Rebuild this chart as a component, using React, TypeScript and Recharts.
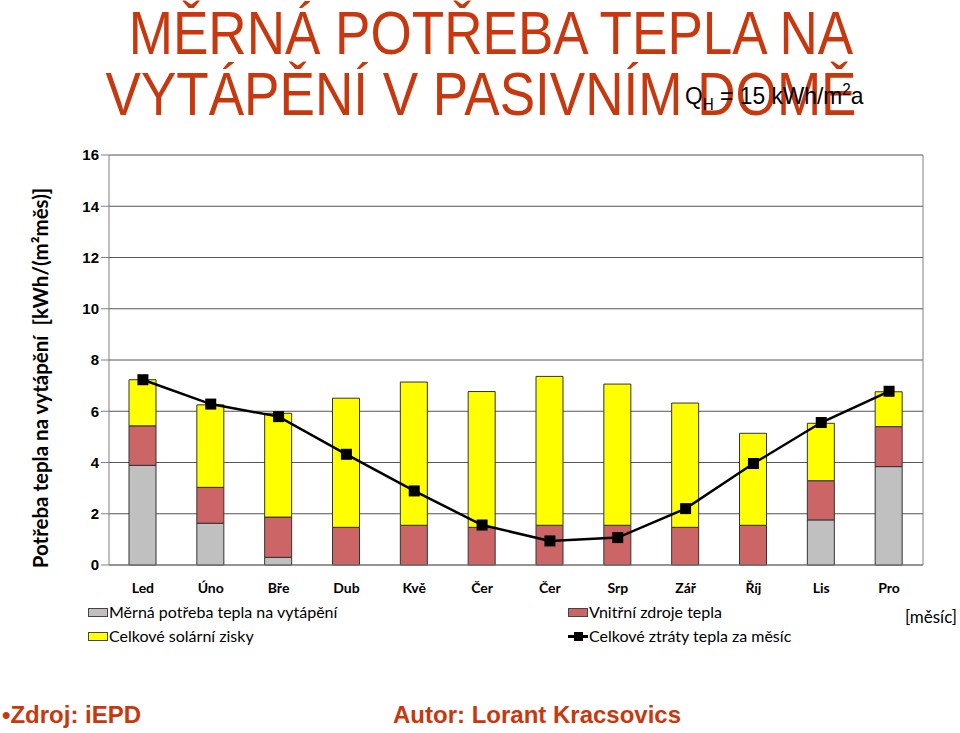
import React from "react";
import { Bar, CartesianGrid, ComposedChart, Line, XAxis, YAxis } from "recharts";

const months = ['Led', 'Úno', 'Bře', 'Dub', 'Kvě', 'Čer', 'Čer', 'Srp', 'Zář', 'Říj', 'Lis', 'Pro'];
const heating = [3.89, 1.63, 0.30, 0, 0, 0, 0, 0, 0, 0, 1.76, 3.84];
const internal = [1.54, 1.40, 1.57, 1.47, 1.55, 1.47, 1.55, 1.55, 1.47, 1.55, 1.53, 1.56];
const solar = [1.80, 3.22, 4.05, 5.04, 5.59, 5.30, 5.81, 5.51, 4.85, 3.59, 2.24, 1.36];
const losses = [7.23, 6.28, 5.79, 4.32, 2.89, 1.56, 0.94, 1.07, 2.20, 3.96, 5.56, 6.78];
const yTicks = [0, 2, 4, 6, 8, 10, 12, 14, 16];
const boundaryTicks = [0, 1, 2, 3, 4, 5, 6, 7, 8, 9, 10, 11, 12];

const data = months.map((m, i) => ({
  month: m,
  heating: heating[i],
  internal: internal[i],
  solar: solar[i],
  losses: losses[i],
}));

const red = '#C8380E';
const arial = '"Liberation Sans", Arial, sans-serif';
const calibri = 'Lato, "Open Sans", sans-serif';

function SquareDot(props: any) {
  const { cx, cy } = props;
  if (cx == null || cy == null) return null;
  return <rect x={cx - 5.5} y={cy - 5.5} width={11} height={11} fill="#000" />;
}

function MonthTick(props: any) {
  const { x, y, payload } = props;
  return (
    <text x={x} y={y + 20} textAnchor="middle" fontFamily={calibri} fontWeight="bold" fontSize={14} fill="#000">
      {payload.value}
    </text>
  );
}

function Swatch({ color }: { color: string }) {
  return <span style={{ display: 'inline-block', width: 20, height: 9, background: color, border: '1px solid #444', boxSizing: 'border-box', marginRight: 1 }} />;
}

function LineSwatch() {
  return (
    <span style={{ display: 'inline-block', position: 'relative', width: 20, height: 10, marginRight: 1 }}>
      <span style={{ position: 'absolute', left: 0, top: 4, width: 20, height: 3, background: '#000' }} />
      <span style={{ position: 'absolute', left: 6, top: 1, width: 9, height: 9, background: '#000' }} />
    </span>
  );
}

export default function App() {
  const legendText: React.CSSProperties = { position: 'absolute', fontFamily: calibri, fontSize: 16, lineHeight: '20px', color: '#000', display: 'flex', alignItems: 'center', whiteSpace: 'nowrap' };
  const titleLine: React.CSSProperties = { position: 'absolute', left: 0, textAlign: 'center', fontFamily: arial, fontSize: 61, lineHeight: '61px', color: red, whiteSpace: 'nowrap' };
  return (
    <div style={{ position: 'absolute', left: 0, top: 0, width: 960, height: 733, background: '#fff', overflow: 'hidden' }}>
      <div style={{ ...titleLine, top: 3, width: 982, transform: 'scaleX(0.87)', transformOrigin: '491px 0' }}>
        MĚRNÁ POTŘEBA TEPLA NA
      </div>
      <div style={{ ...titleLine, top: 64, width: 962, transform: 'scaleX(0.87)', transformOrigin: '481px 0' }}>
        VYTÁPĚNÍ V PASIVNÍM DOMĚ
      </div>
      <div style={{ position: 'absolute', left: 685, top: 84, fontFamily: arial, fontSize: 24, lineHeight: '24px', color: '#000', whiteSpace: 'nowrap', transform: 'scaleX(0.95)', transformOrigin: '0 0' }}>
        Q<sub style={{ fontSize: 16, lineHeight: 0 }}>H</sub> = 15 kWh/m<sup style={{ fontSize: 16, lineHeight: 0 }}>2</sup>a
      </div>

      <ComposedChart
        width={960}
        height={733}
        data={data}
        margin={{ top: 155, right: 0, bottom: 138, left: 69 }}
        style={{ position: 'absolute', left: 0, top: 0 }}
      >
        <CartesianGrid vertical={false} stroke="#555" strokeWidth={1} yAxisId="left" />
        <XAxis
          xAxisId="bounds"
          type="number"
          domain={[0, 12]}
          ticks={boundaryTicks}
          height={0}
          tick={false}
          tickSize={6}
          axisLine={false}
          tickLine={{ stroke: '#808080' }}
        />
        <XAxis xAxisId="cat" dataKey="month" height={30} tickLine={false} axisLine={{ stroke: '#808080' }} tick={<MonthTick />} interval={0} />
        <YAxis
          yAxisId="left"
          domain={[0, 16]}
          ticks={yTicks}
          width={40}
          tickSize={8}
          tickLine={{ stroke: '#808080' }}
          axisLine={{ stroke: '#808080' }}
          tick={{ fontFamily: arial, fontWeight: 'bold', fontSize: 15, fill: '#000' }}
        />
        <YAxis
          yAxisId="right"
          orientation="right"
          domain={[0, 16]}
          ticks={yTicks}
          width={37}
          tickSize={5}
          tickMargin={6}
          tickFormatter={(v: number) => v.toFixed(1)}
          tickLine={{ stroke: '#808080' }}
          axisLine={{ stroke: '#808080' }}
          tick={{ fontFamily: arial, fontSize: 9, fill: '#333' }}
        />
        <Bar xAxisId="cat" yAxisId="left" dataKey="heating" stackId="a" fill="#C0C0C0" stroke="#333" strokeWidth={1} barSize={27} isAnimationActive={false} />
        <Bar xAxisId="cat" yAxisId="left" dataKey="internal" stackId="a" fill="#CC6666" stroke="#333" strokeWidth={1} barSize={27} isAnimationActive={false} />
        <Bar xAxisId="cat" yAxisId="left" dataKey="solar" stackId="a" fill="#FFFF00" stroke="#333" strokeWidth={1} barSize={27} isAnimationActive={false} />
        <Line xAxisId="cat" yAxisId="left" dataKey="losses" stroke="#000" strokeWidth={2.5} dot={<SquareDot />} activeDot={false} isAnimationActive={false} />
      </ComposedChart>

      <div style={{ position: 'absolute', left: 40, top: 378, transform: 'translate(-50%, -50%) rotate(-90deg)', fontFamily: calibri, fontWeight: 'bold', fontSize: 20.5, color: '#000', whiteSpace: 'nowrap' }}>
        Potřeba tepla na vytápění&nbsp;&nbsp;[kWh/(m²měs)]
      </div>

      <div style={{ ...legendText, left: 88, top: 602 }}><Swatch color="#C0C0C0" />Měrná potřeba tepla na vytápění</div>
      <div style={{ ...legendText, left: 88, top: 626 }}><Swatch color="#FFFF00" />Celkové solární zisky</div>
      <div style={{ ...legendText, left: 568, top: 602 }}><Swatch color="#CC6666" />Vnitřní zdroje tepla</div>
      <div style={{ ...legendText, left: 568, top: 626 }}><LineSwatch />Celkové ztráty tepla za měsíc</div>
      <div style={{ ...legendText, left: 905, top: 607, fontSize: 17 }}>[měsíc]</div>

      <div style={{ position: 'absolute', left: 2, top: 701, fontFamily: arial, fontWeight: 'bold', fontSize: 24, color: red, whiteSpace: 'nowrap' }}>•Zdroj: iEPD</div>
      <div style={{ position: 'absolute', left: 393, top: 701, fontFamily: arial, fontWeight: 'bold', fontSize: 24, color: red, whiteSpace: 'nowrap' }}>Autor: Lorant Kracsovics</div>
    </div>
  );
}
